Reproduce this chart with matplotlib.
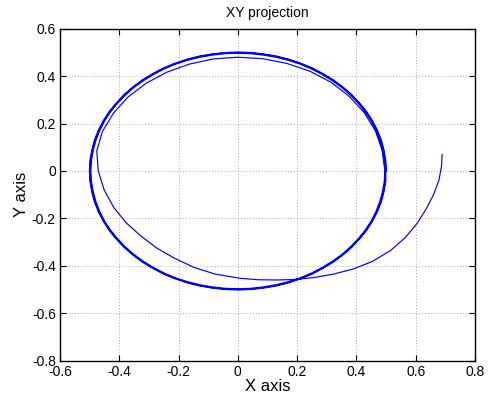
import matplotlib
matplotlib.use("Agg")
import matplotlib.pyplot as plt
import numpy as np

plt.rcParams["font.family"] = ["Liberation Sans", "DejaVu Sans"]

# first pass: spirals in from the start point (clockwise)
x_first = [0.689, 0.687, 0.678, 0.660, 0.635, 0.605, 0.565, 0.515, 0.455, 0.391,
           0.320, 0.255, 0.188, 0.132, 0.070, 0.008, -0.077, -0.148, -0.213, -0.273,
           -0.327, -0.377, -0.419, -0.451, -0.471, -0.476, -0.457, -0.420, -0.371, -0.310,
           -0.240, -0.164, -0.083, 0.000, 0.083, 0.165, 0.243, 0.314, 0.375, 0.426,
           0.464, 0.487, 0.496]
y_first = [0.070, 0.020, -0.040, -0.100, -0.160, -0.220, -0.280, -0.335, -0.380, -0.412,
           -0.435, -0.449, -0.457, -0.459, -0.458, -0.452, -0.434, -0.406, -0.368, -0.325,
           -0.274, -0.218, -0.153, -0.080, 0.000, 0.084, 0.166, 0.243, 0.311, 0.369,
           0.416, 0.450, 0.472, 0.479, 0.473, 0.453, 0.420, 0.374, 0.315, 0.246,
           0.169, 0.086, 0.000]

# following loops, settled on the limit cycle (clockwise, from the right side)
x_loop2 = [.494, .488, .479, .466, .450, .430, .406, .380, .351, .319, .285, .248, .210, .170, .128, .086, .043, 0,
           -.043, -.086, -.128, -.170, -.210, -.248, -.285, -.319, -.351, -.380, -.406, -.430, -.450, -.466, -.479, -.488, -.494, -.496,
           -.494, -.488, -.479, -.466, -.450, -.430, -.406, -.380, -.351, -.319, -.285, -.248, -.210, -.170, -.128, -.086, -.043, 0,
           .043, .086, .128, .170, .210, .248, .285, .319, .351, .380, .406, .430, .450, .466, .479, .488, .494, .496]
y_loop2 = [-.043, -.086, -.128, -.170, -.210, -.248, -.285, -.319, -.351, -.380, -.406, -.430, -.450, -.466, -.479, -.488, -.494, -.496,
           -.494, -.488, -.479, -.466, -.450, -.430, -.406, -.380, -.351, -.319, -.285, -.248, -.210, -.170, -.128, -.086, -.043, 0,
           .043, .086, .128, .170, .210, .248, .285, .319, .351, .380, .406, .430, .450, .466, .479, .488, .494, .496,
           .494, .488, .479, .466, .450, .430, .406, .380, .351, .319, .285, .248, .210, .170, .128, .086, .043, 0]

x_loop3 = [.497, .491, .482, .469, .452, .432, .409, .382, .353, .321, .286, .250, .211, .171, .129, .087, .044, 0,
           -.044, -.087, -.129, -.171, -.211, -.250, -.286, -.321, -.353, -.382, -.409, -.432, -.452, -.469, -.482, -.491, -.497, -.499,
           -.497, -.491, -.482, -.469, -.452, -.432, -.409, -.382, -.353, -.321, -.286, -.250, -.211, -.171, -.129, -.087, -.044, 0,
           .044, .087, .129, .171, .211, .250, .286, .321, .353, .382, .409, .432, .452, .469, .482, .491, .497, .499]
y_loop3 = [-.044, -.087, -.129, -.171, -.211, -.250, -.286, -.321, -.353, -.382, -.409, -.432, -.452, -.469, -.482, -.491, -.497, -.499,
           -.497, -.491, -.482, -.469, -.452, -.432, -.409, -.382, -.353, -.321, -.286, -.250, -.211, -.171, -.129, -.087, -.044, 0,
           .044, .087, .129, .171, .211, .250, .286, .321, .353, .382, .409, .432, .452, .469, .482, .491, .497, .499,
           .497, .491, .482, .469, .452, .432, .409, .382, .353, .321, .286, .250, .211, .171, .129, .087, .044, 0]

x_loop4 = [.499, .493, .484, .471, .454, .434, .410, .384, .354, .322, .287, .251, .212, .171, .130, .087, .044, 0,
           -.044, -.087, -.130, -.171, -.212, -.251, -.287, -.322, -.354, -.384, -.410, -.434, -.454, -.471, -.484, -.493, -.499, -.501,
           -.499, -.493, -.484, -.471, -.454, -.434, -.410, -.384, -.354, -.322, -.287, -.251, -.212, -.171, -.130, -.087, -.044, 0,
           .044, .087, .130, .171, .212, .251, .287, .322, .354, .384, .410, .434, .454, .471, .484, .493, .499, .501]
y_loop4 = [-.044, -.087, -.130, -.171, -.212, -.251, -.287, -.322, -.354, -.384, -.410, -.434, -.454, -.471, -.484, -.493, -.499, -.501,
           -.499, -.493, -.484, -.471, -.454, -.434, -.410, -.384, -.354, -.322, -.287, -.251, -.212, -.171, -.130, -.087, -.044, 0,
           .044, .087, .130, .171, .212, .251, .287, .322, .354, .384, .410, .434, .454, .471, .484, .493, .499, .501,
           .499, .493, .484, .471, .454, .434, .410, .384, .354, .322, .287, .251, .212, .171, .130, .087, .044, 0]

xticks = [-0.6, -0.4, -0.2, 0, 0.2, 0.4, 0.6, 0.8]
yticks = [-0.8, -0.6, -0.4, -0.2, 0, 0.2, 0.4, 0.6]

x = np.concatenate([x_first, x_loop2, x_loop3, x_loop4])
y = np.concatenate([y_first, y_loop2, y_loop3, y_loop4])

fig = plt.figure(figsize=(4.89, 4.01), dpi=100)
ax = fig.add_axes([0.1227, 0.0998, 0.8487, 0.8291])
ax.plot(x, y, color="blue", lw=0.85)

ax.set_xlim(-0.6, 0.8)
ax.set_ylim(-0.8, 0.6)
ax.set_xticks(xticks)
ax.set_yticks(yticks)
ax.set_xticklabels([f"{t:g}" for t in xticks], fontsize=10)
ax.set_yticklabels([f"{t:g}" for t in yticks], fontsize=10)
ax.tick_params(direction="in", top=True, right=True, length=4, width=0.8, pad=3)
ax.grid(True, linestyle=(0, (1, 2)), color="#aaaaaa", lw=0.7)
for s in ax.spines.values():
    s.set_linewidth(1.0)

ax.set_xlabel("X axis", fontsize=12, labelpad=0)
ax.set_ylabel("Y axis", fontsize=12, labelpad=2)
ax.set_title("XY projection", fontsize=10, pad=8)

fig.savefig("out.png", dpi=100)
